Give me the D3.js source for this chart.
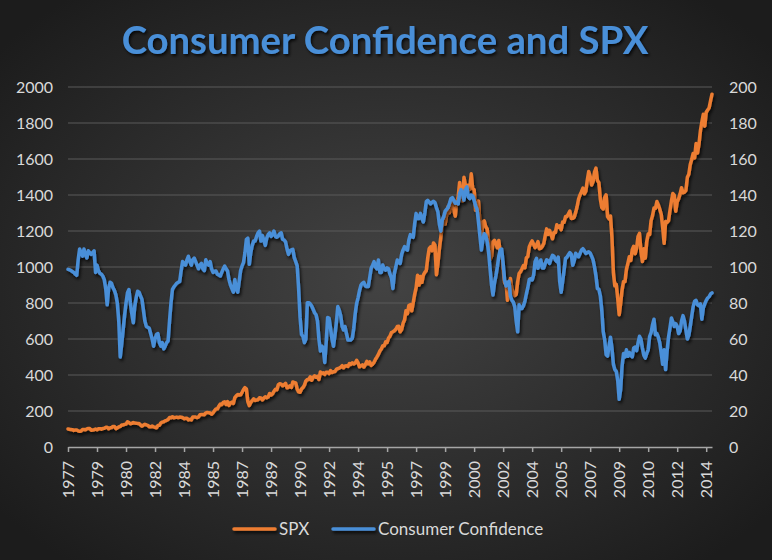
<!DOCTYPE html>
<html>
<head>
<meta charset="utf-8">
<script src="https://cdn.jsdelivr.net/npm/d3@7"></script>
<style>
  html, body { margin: 0; padding: 0; background: #222; }
  svg { display: block; }
</style>
</head>
<body>
<svg id="chart" width="772" height="560"></svg>
<script>
// ---------- DATA (monthly, Jun 1977 – Jun 2014) ----------
const startYear = 1977;
const startMonth = 6;
const tickLabels = ["1977","1979","1980","1982","1984","1985","1987","1989","1990","1992","1994","1995","1997","1999","2000","2002","2004","2005","2007","2009","2010","2012","2014"];
const leftTicks = [0,200,400,600,800,1000,1200,1400,1600,1800,2000];
const rightTicks = [0,20,40,60,80,100,120,140,160,180,200];
const seriesNames = ["SPX", "Consumer Confidence"];

const spx = [
  100.5, 98.9, 96.8, 96.5, 92.3, 94.8, 95.1,
  89.3, 87.0, 89.2, 96.8, 97.3, 95.5, 100.7, 103.3, 102.5, 93.2, 94.7, 96.1,
  99.9, 96.3, 101.6, 101.8, 99.1, 102.9, 103.8, 109.3, 109.3, 101.8, 106.2, 107.9,
  114.2, 113.7, 102.1, 106.3, 111.2, 114.2, 121.7, 122.4, 125.5, 127.5, 140.5, 135.8,
  129.6, 131.3, 136.0, 132.8, 132.6, 131.2, 130.9, 122.8, 116.2, 121.9, 126.4, 122.6,
  120.4, 113.1, 112.0, 116.4, 111.9, 109.6, 107.1, 119.5, 120.4, 133.7, 138.5, 140.6,
  145.3, 148.1, 153.0, 164.4, 162.4, 168.1, 162.6, 164.4, 166.1, 163.6, 166.4, 164.9,
  163.4, 157.1, 159.2, 160.1, 150.6, 153.2, 150.7, 166.7, 166.1, 166.1, 163.6, 167.2,
  179.6, 181.2, 180.7, 179.8, 189.6, 191.9, 190.9, 188.6, 182.1, 189.8, 202.2, 211.3,
  211.8, 226.9, 238.9, 235.5, 247.4, 250.8, 236.1, 252.9, 231.3, 244.0, 249.2, 242.2,
  274.1, 284.2, 291.7, 288.4, 290.1, 304.0, 318.7, 329.8, 321.8, 251.8, 230.3, 247.1,
  257.1, 267.8, 258.9, 261.3, 262.2, 273.5, 272.0, 261.5, 271.9, 279.0, 273.7, 277.7,
  297.5, 288.9, 294.9, 309.6, 320.5, 318.0, 346.1, 351.5, 349.2, 340.4, 346.0, 353.4,
  329.1, 331.9, 339.9, 330.8, 361.2, 358.0, 356.2, 322.6, 306.1, 304.0, 322.2, 330.2,
  343.9, 367.1, 375.2, 375.3, 389.8, 371.2, 387.8, 395.4, 387.9, 392.5, 375.2, 417.1,
  408.8, 412.7, 403.7, 415.0, 415.4, 408.1, 424.2, 414.0, 417.8, 418.7, 431.4, 435.7,
  438.8, 443.4, 451.7, 440.2, 450.2, 451.0, 448.1, 463.6, 458.9, 467.8, 461.8, 466.5,
  481.6, 467.1, 445.8, 450.9, 456.5, 444.3, 458.3, 475.5, 462.7, 472.4, 453.7, 459.3,
  470.4, 487.4, 500.7, 514.7, 533.4, 544.8, 562.1, 561.9, 584.4, 581.5, 605.4, 615.9,
  636.0, 640.4, 645.5, 654.2, 669.1, 670.6, 640.0, 652.0, 687.3, 705.3, 757.0, 740.7,
  786.2, 790.8, 757.1, 801.3, 848.3, 885.1, 954.3, 899.5, 947.3, 914.6, 955.4, 970.4,
  980.3, 1049.3, 1101.8, 1111.8, 1090.8, 1133.8, 1120.7, 957.3, 1017.0, 1098.7, 1163.6, 1229.2,
  1279.6, 1238.3, 1286.4, 1335.2, 1301.8, 1372.7, 1328.7, 1320.4, 1282.7, 1362.9, 1388.9, 1469.3,
  1394.5, 1366.4, 1498.6, 1452.4, 1420.6, 1454.6, 1430.8, 1517.7, 1436.5, 1429.4, 1315.2, 1320.3,
  1366.0, 1239.9, 1160.3, 1249.5, 1255.8, 1224.4, 1211.2, 1133.6, 1040.9, 1059.8, 1139.5, 1148.1,
  1130.2, 1106.7, 1147.4, 1076.9, 1067.1, 989.8, 911.6, 916.1, 815.3, 885.8, 936.3, 879.8,
  855.7, 841.2, 848.2, 916.9, 963.6, 974.5, 990.3, 1008.0, 996.0, 1050.7, 1058.2, 1111.9,
  1131.1, 1144.9, 1126.2, 1107.3, 1120.7, 1140.8, 1101.7, 1104.2, 1114.6, 1130.2, 1173.8, 1211.9,
  1181.3, 1203.6, 1180.6, 1156.9, 1191.5, 1191.3, 1234.2, 1220.3, 1228.8, 1207.0, 1249.5, 1248.3,
  1280.1, 1280.7, 1294.9, 1310.6, 1270.1, 1270.2, 1276.7, 1303.8, 1335.9, 1377.9, 1400.6, 1418.3,
  1438.2, 1406.8, 1420.9, 1482.4, 1530.6, 1503.4, 1455.3, 1474.0, 1526.8, 1549.4, 1481.1, 1468.4,
  1378.6, 1330.6, 1322.7, 1385.6, 1400.4, 1280.0, 1267.4, 1282.8, 1166.4, 968.8, 896.2, 903.3,
  825.9, 735.1, 797.9, 872.8, 919.1, 919.3, 987.5, 1020.6, 1057.1, 1036.2, 1095.6, 1115.1,
  1073.9, 1104.5, 1169.4, 1186.7, 1089.4, 1030.7, 1101.6, 1049.3, 1141.2, 1183.3, 1180.6, 1257.6,
  1286.1, 1327.2, 1325.8, 1363.6, 1345.2, 1320.6, 1292.3, 1218.9, 1131.4, 1253.3, 1247.0, 1257.6,
  1312.4, 1365.7, 1408.5, 1397.9, 1310.3, 1362.2, 1379.3, 1406.6, 1440.7, 1412.2, 1416.2, 1426.2,
  1498.1, 1514.7, 1569.2, 1597.6, 1630.7, 1606.3, 1685.7, 1633.0, 1681.6, 1756.5, 1805.8, 1848.4,
  1782.6, 1859.5, 1872.3, 1884.0, 1923.6, 1960.2
];

const confidence = [
  98.7, 98.5, 98, 97.5, 97, 96, 95.4, 104, 110, 108,
  106, 110, 107, 105, 109, 108, 107, 108, 109, 97,
  101, 98, 96.5, 96, 95, 93, 88, 79, 88, 91.5,
  91, 88.5, 87, 84.5, 80, 70, 50, 57, 65, 73,
  80, 85.7, 87.5, 80, 74, 69, 78, 83, 86.5, 86,
  84, 82, 76, 70, 67, 66.5, 66, 63, 60, 56,
  60, 62.5, 63, 58, 56, 58, 54.5, 56, 58, 59,
  70, 80, 87.6, 89, 90, 91, 91.5, 92, 98, 103,
  102, 101, 104, 106, 103, 101, 104, 105, 103, 101,
  99, 101, 102, 99, 98, 104, 102, 101, 103, 99,
  97, 97.5, 97.8, 96, 95.5, 95, 97, 99, 100.5, 99,
  97.8, 93, 90, 88, 86, 93, 88, 86, 92, 98,
  100.6, 102.5, 108, 115.4, 116, 101.5, 108, 112, 114.4, 114.4,
  117, 119, 120, 114.4, 117.5, 115, 112, 116, 118, 119,
  117, 118, 120, 117, 116.5, 117.2, 118.5, 119, 115.4, 115,
  114, 110, 107, 109, 109.5, 109.8, 105.2, 103, 100.6, 88,
  72, 62.5, 61.5, 58, 60, 80.2, 80.2, 79.5, 78.3, 76.5,
  74.6, 73.5, 70, 59.8, 53.3, 56, 55, 47, 58, 72,
  71.5, 66, 60, 56, 62, 69, 78, 76, 73, 67,
  65, 66.9, 63, 59.4, 59.4, 59.5, 60.4, 66, 74, 79.8,
  83, 87, 90, 91, 91.5, 89.5, 89.1, 89.1, 94, 99.3,
  101, 103, 100, 99, 103.9, 97, 97, 101.1, 99, 98.3,
  99.5, 99, 96, 94, 88.1, 96.5, 100, 103.9, 102.5, 102,
  107, 109.5, 111.3, 110, 109.4, 115, 118, 116.9, 116.5, 124,
  129.8, 127, 127, 129.8, 127, 125, 130, 136.3, 137, 136,
  135, 136, 136.5, 135.8, 133, 130.7, 124, 120, 126, 128,
  131, 132, 133, 135.4, 138, 138.5, 137, 135.4, 136, 135,
  140.9, 143, 141, 137.2, 143, 144.5, 139, 138, 140, 139.5,
  137, 134, 132, 125, 117, 109.4, 115, 118.5, 117.5, 114,
  108, 99, 90, 84.4, 91, 95, 100, 106, 109.5, 110,
  102, 92.8, 89.5, 91, 92, 84, 81.5, 80.5, 78, 70,
  64, 79, 77, 77, 78.5, 81, 85, 88.5, 93, 93.5,
  92.8, 95.5, 103, 104.8, 99.3, 102, 103.9, 99.5, 99.5, 102,
  104, 103.5, 102, 104.5, 106.5, 106, 104, 103, 105.5, 92,
  86, 92, 98, 104.8, 105.5, 106.8, 108, 107, 101, 103.5,
  107.6, 106.5, 105.7, 107.5, 109.4, 110.2, 109, 107.6, 108, 108.5,
  107.8, 106, 104, 100, 95, 88, 87.6, 84, 76, 64,
  59.6, 51.3, 50.5, 56, 61, 55, 46, 43, 42, 37,
  26.5, 32, 45, 52, 50, 54, 50.4, 52.5, 51, 50,
  55, 55.5, 53.5, 57.8, 61.5, 60, 55, 51, 49.4, 52,
  54, 61.5, 63.5, 68, 71, 62.4, 63, 61, 57.8, 52,
  46, 54, 43, 53, 61, 66.1, 71.7, 69.5, 67, 68.5,
  67, 63, 64.5, 70, 73, 70, 65, 60, 62, 67,
  72.6, 78, 81, 81.5, 79, 78.5, 79.5, 71, 77.2, 79.5,
  81.5, 82.8, 83.5, 85, 85.6
];

// ---------- CHART ----------
const W = 772, H = 560;
const svg = d3.select("#chart");
const defs = svg.append("defs");

const bg = defs.append("radialGradient").attr("id", "bg")
  .attr("cx", "50%").attr("cy", "50%").attr("r", "65%");
bg.append("stop").attr("offset", "0%").attr("stop-color", "#434343");
bg.append("stop").attr("offset", "100%").attr("stop-color", "#1c1c1c");

const shadow = defs.append("filter").attr("id", "shadow")
  .attr("filterUnits", "userSpaceOnUse")
  .attr("x", 0).attr("y", 0).attr("width", W).attr("height", H);
shadow.append("feDropShadow").attr("dx", 1.5).attr("dy", 2.5)
  .attr("stdDeviation", 1.6).attr("flood-color", "#000").attr("flood-opacity", 0.75);

const tshadow = defs.append("filter").attr("id", "tshadow")
  .attr("filterUnits", "userSpaceOnUse")
  .attr("x", 0).attr("y", 0).attr("width", W).attr("height", H);
tshadow.append("feDropShadow").attr("dx", 1.5).attr("dy", 2)
  .attr("stdDeviation", 1.5).attr("flood-color", "#000").attr("flood-opacity", 0.8);

svg.append("rect").attr("width", W).attr("height", H).attr("fill", "url(#bg)");

const font = "Lato, 'Open Sans', 'DejaVu Sans', sans-serif";
const textColor = "#d9d9d9";

const x = d3.scaleLinear().domain([0, spx.length - 1]).range([68, 712]);
const yL = d3.scaleLinear().domain([0, 2000]).range([447, 87]);
const yR = d3.scaleLinear().domain([0, 200]).range([447, 87]);

// title
const title = svg.append("text")
  .attr("x", 385).attr("y", 54)
  .attr("text-anchor", "middle")
  .attr("font-family", font).attr("font-weight", "bold")
  .attr("font-size", 34)
  .attr("fill", "#4a8fd8")
  .attr("filter", "url(#tshadow)")
  .text("Consumer Confidence and SPX");
const tw = title.node().getComputedTextLength();
title.attr("font-size", 34 * 527 / tw);

// gridlines
svg.append("g").selectAll("line")
  .data(leftTicks.filter(d => d > 0))
  .join("line")
  .attr("x1", 68).attr("x2", 712)
  .attr("y1", d => yL(d)).attr("y2", d => yL(d))
  .attr("stroke", "#5a5a5a").attr("stroke-width", 1);

// left axis labels
const gL = svg.append("g").attr("transform", "translate(53,0)")
  .call(d3.axisLeft(yL).tickValues(leftTicks).tickFormat(d3.format("d")).tickSize(0).tickPadding(0));
gL.select(".domain").remove();
gL.selectAll("text").attr("font-family", font).attr("font-size", 16).attr("fill", textColor);

// right axis labels
const gR = svg.append("g").attr("transform", "translate(729,0)")
  .call(d3.axisRight(yR).tickValues(rightTicks).tickFormat(d3.format("d")).tickSize(0).tickPadding(0));
gR.select(".domain").remove();
gR.selectAll("text").attr("font-family", font).attr("font-size", 16).attr("fill", textColor);

// x axis
const tickIdx = tickLabels.map((_, i) => i * 20);
const gX = svg.append("g").attr("transform", "translate(0,447)")
  .call(d3.axisBottom(x).tickValues(tickIdx)
    .tickFormat((d, i) => tickLabels[i]).tickSize(5).tickSizeOuter(0));
gX.select(".domain").attr("stroke", "#a6a6a6").attr("stroke-width", 1.5);
gX.selectAll(".tick line").attr("stroke", "#a6a6a6").attr("stroke-width", 1.5);
gX.selectAll("text")
  .attr("font-family", font).attr("font-size", 16).attr("fill", textColor)
  .attr("text-anchor", "end")
  .attr("transform", "rotate(-90)")
  .attr("x", -14).attr("y", 0).attr("dy", "0.35em");

// lines
const lineL = d3.line().x((d, i) => x(i)).y(d => yL(d)).curve(d3.curveLinear);
const lineR = d3.line().x((d, i) => x(i)).y(d => yR(d)).curve(d3.curveLinear);

svg.append("path").datum(spx)
  .attr("d", lineL).attr("fill", "none")
  .attr("stroke", "#ed7d31").attr("stroke-width", 3.5)
  .attr("stroke-linejoin", "round").attr("stroke-linecap", "round")
  .attr("filter", "url(#shadow)");

svg.append("path").datum(confidence)
  .attr("d", lineR).attr("fill", "none")
  .attr("stroke", "#4a8fd8").attr("stroke-width", 3.5)
  .attr("stroke-linejoin", "round").attr("stroke-linecap", "round")
  .attr("filter", "url(#shadow)");

// legend
const legendColors = ["#ed7d31", "#4a8fd8"];
const legendX = [234, 333];
const lg = svg.append("g");
seriesNames.forEach((name, i) => {
  lg.append("line")
    .attr("x1", legendX[i]).attr("x2", legendX[i] + 41)
    .attr("y1", 529).attr("y2", 529)
    .attr("stroke", legendColors[i]).attr("stroke-width", 3.5)
    .attr("stroke-linecap", "round")
    .attr("filter", "url(#shadow)");
  lg.append("text")
    .attr("x", legendX[i] + 45).attr("y", 535)
    .attr("font-family", font).attr("font-size", 17).attr("fill", textColor)
    .text(name);
});
</script>
</body>
</html>
